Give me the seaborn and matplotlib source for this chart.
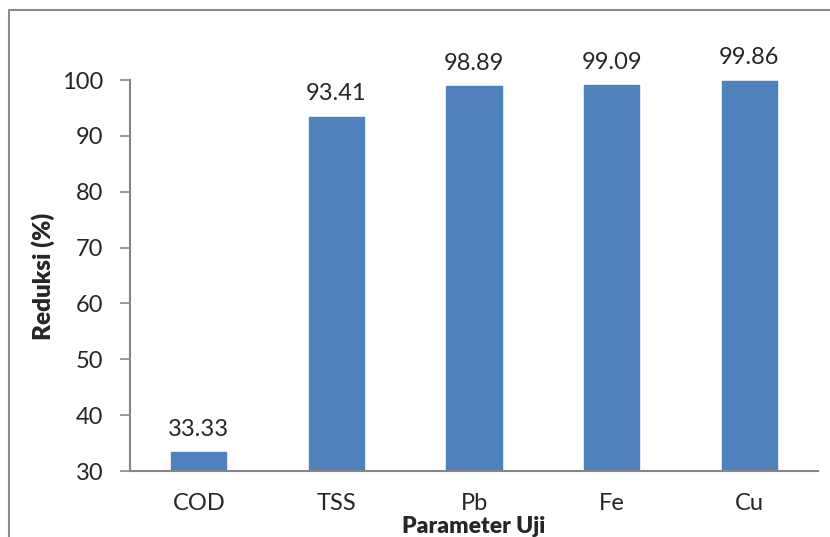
import matplotlib
matplotlib.use("Agg")
import matplotlib.pyplot as plt
import seaborn as sns
import pandas as pd
from matplotlib.lines import Line2D

categories = ["COD", "TSS", "Pb", "Fe", "Cu"]
values = [33.33, 93.41, 98.89, 99.09, 99.86]
yticks = [30, 40, 50, 60, 70, 80, 90, 100]

sns.set_style("white")
plt.rcParams['font.family'] = ['Lato', 'DejaVu Sans']

df = pd.DataFrame({"Parameter": categories, "Reduksi": values})

fig = plt.figure(figsize=(8.30, 5.37), dpi=100)
ax = fig.add_axes([130/830, 1 - 471/537, (818-130)/830, (471-80)/537])

sns.barplot(data=df, x="Parameter", y="Reduksi", color="#4F81BD", saturation=1,
            width=0.4, ax=ax, edgecolor="#4F81BD")

ax.set_ylim(30, 100)
ax.set_xlim(-0.5, len(categories) - 0.5)
ax.set_yticks(yticks)
ax.tick_params(axis='y', length=7, width=1.2, color="#868686", labelsize=17, pad=12, direction='out', left=True)
ax.tick_params(axis='x', length=0, labelsize=17, pad=16)

for s in ["top", "right"]:
    ax.spines[s].set_visible(False)
for s in ["left", "bottom"]:
    ax.spines[s].set_color("#868686")
    ax.spines[s].set_linewidth(1.5)

for i, v in enumerate(values):
    ax.annotate(f"{v:.2f}", (i, v), xytext=(0, 9), textcoords="offset points",
                ha="center", va="bottom", fontsize=17)

ax.set_xlabel("")
ax.set_ylabel("")
fig.text(43/830, 1 - 276/537, "Reduksi (%)", rotation=90, ha="center", va="center",
         fontsize=17.5, fontweight="heavy")
fig.text(474/830, 1 - 533/537, "Parameter Uji", ha="center", va="baseline",
         fontsize=16.5, fontweight="heavy")

# outer chart border (top and left visible)
fig.add_artist(Line2D([9/830, 1], [1 - 10/537, 1 - 10/537], color="#8c8c8c", lw=1.5, transform=fig.transFigure))
fig.add_artist(Line2D([9/830, 9/830], [0, 1 - 10/537], color="#8c8c8c", lw=1.5, transform=fig.transFigure))

fig.savefig("out.png", dpi=100)
